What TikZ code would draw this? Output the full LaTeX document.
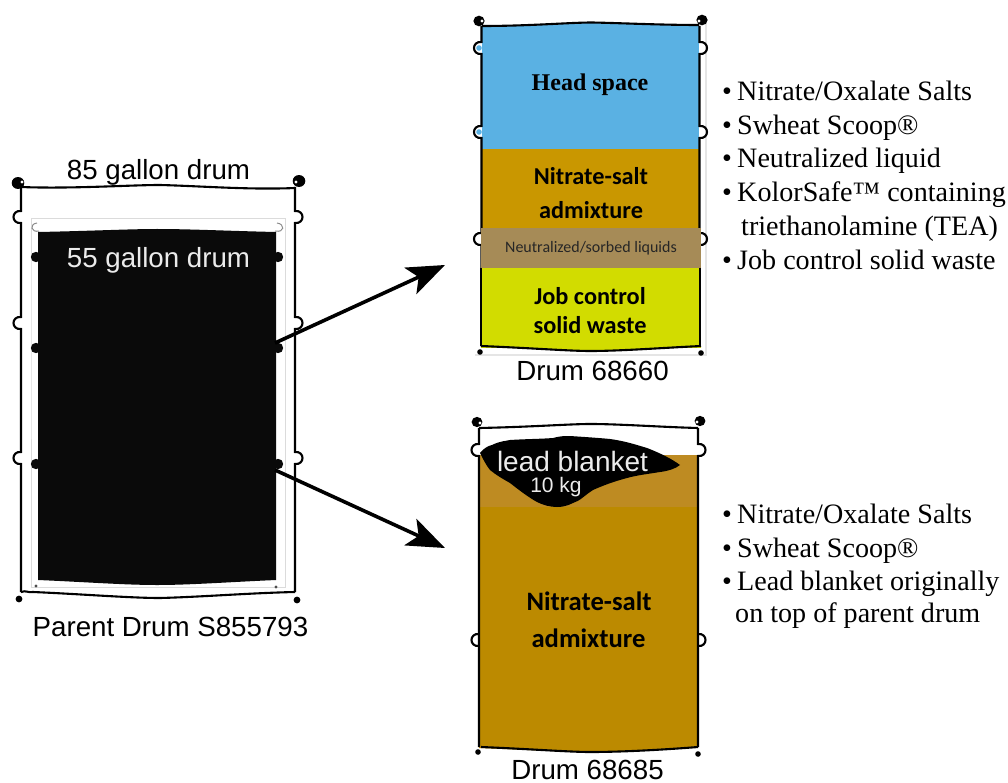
\documentclass[tikz,border=0pt]{standalone}
\usepackage{fontspec}
\setmainfont{Liberation Serif}
\newfontfamily\arialf{Liberation Sans}
\newfontfamily\calibrif{Carlito}
\usetikzlibrary{arrows.meta}
\definecolor{blueL}{HTML}{5AB1E3}
\definecolor{orangeL}{HTML}{C99700}
\definecolor{brownL}{HTML}{A68B57}
\definecolor{yellowL}{HTML}{D2DC00}
\definecolor{goldL}{HTML}{BC8A00}
\definecolor{goldB}{HTML}{BE8B22}
\definecolor{inkB}{HTML}{0A0A0A}
% wall with three outward bumps: x, direction, ytop, rib1, rib2, rib3, ybottom
\newcommand{\drumwall}[7]{
  \draw[wall] (#1,#3) -- (#1,{#4-6}) .. controls ({#1+#2*10},{#4-7}) and ({#1+#2*10},{#4+7}) .. (#1,{#4+6})
    -- (#1,{#5-6}) .. controls ({#1+#2*10},{#5-7}) and ({#1+#2*10},{#5+7}) .. (#1,{#5+6})
    -- (#1,{#6-6}) .. controls ({#1+#2*10},{#6-7}) and ({#1+#2*10},{#6+7}) .. (#1,{#6+6})
    -- (#1,#7);}
% rim blob with a small notch: centre x, y, radius, notch x, notch y
\newcommand{\rimblob}[5]{
  \fill[black] (#1,#2) ellipse ({#3} and {#3*0.95});
  \fill[white] (#4,#5) circle (1.7);}
\tikzset{
  x=1pt,y=-1pt,
  wall/.style={line width=2.1pt,black},
  rimline/.style={line width=2.1pt,black},
  sanslabel/.style={font=\arialf\fontsize{27.7}{30}\selectfont,inner sep=0pt},
  calibold/.style={font=\calibrif\bfseries\fontsize{24.3}{26}\selectfont,inner sep=0pt,text=black},
  caliboldbig/.style={font=\calibrif\bfseries\fontsize{26.6}{28}\selectfont,inner sep=0pt,text=black},
  listline/.style={font=\fontsize{28.1}{30}\selectfont,inner sep=0pt,anchor=base west},
  flow/.style={line width=3.6pt,-{Stealth[length=38pt,width=29pt,inset=9pt]}},
}
\begin{document}
\begin{tikzpicture}
\useasboundingbox (0,0) rectangle (1008,783);
\fill[white] (0,0) rectangle (1008,783);

% ---------- parent drum ----------
\draw[black!14,line width=1pt] (31,294) -- (31,219) -- (285,219) -- (285,587) -- (31,587) -- cycle;
\fill[inkB] (38,232) .. controls (90,231) and (130,229) .. (157,229) .. controls (190,229) and (230,231) .. (276,232)
  -- (276,580) .. controls (230,582) and (190,585) .. (157,585) .. controls (125,585) and (85,582) .. (38,580) -- cycle;
\foreach \yy in {257,348,464}{
  \fill[inkB] (36,\yy) circle (5.2);
  \fill[inkB] (278,\yy) circle (5.2);
}
\draw[black!45,line width=1pt] (39,231) .. controls (31,233) and (29,224) .. (37,223);
\draw[black!45,line width=1pt] (275,231) .. controls (285,233) and (285,224) .. (277,223);
\fill[black!70] (36,586) circle (1.6) (276,587) circle (1.6);
\drumwall{21}{-1}{187}{217}{323}{458}{592}
\drumwall{295}{1}{187}{217}{323}{458}{592}
\draw[rimline] (21,187) .. controls (70,189) and (130,185) .. (160,185) .. controls (200,186) and (250,190) .. (295,188);
\draw[rimline] (21,592) .. controls (26,590) and (28,593) .. (33,592) .. controls (80,594) and (130,598) .. (160,598) .. controls (200,597) and (250,593) .. (295,592);
\rimblob{18}{183}{6.3}{22}{182}
\rimblob{299}{181}{6.3}{296}{182}
\fill[black] (19,599) circle (3.4) (297,600) circle (3.4);

\node[sanslabel] (lab85) at (158.5,172) {85 gallon drum};
\node[sanslabel,text=white!92!black] (lab55) at (158.5,260.5) {55 gallon drum};
\node[sanslabel] (parent) at (170.5,627) {Parent Drum S855793};
\coordinate (outA) at (275,343);
\coordinate (outB) at (275,470);

% ---------- drum 68660 ----------
\draw[black!10,line width=1.2pt] (706,20) -- (706,355) -- (475,355);
\fill[blueL] (479,48) circle (2.8) (479,132) circle (2.8);
\fill[blueL] (482,26) -- (699,26) -- (699,150) -- (482,150) -- cycle;
\fill[blueL] (482,27) .. controls (530,26) and (570,23) .. (590,23) .. controls (620,23) and (660,25) .. (699,26) -- cycle;
\fill[orangeL] (482,149.5) rectangle (699,229);
\drumwall{481.5}{-1}{26}{48}{132}{239}{346}
\drumwall{699.5}{1}{26}{48}{132}{239}{346}
\node[inner sep=0pt,fill=brownL,minimum width=220pt,minimum height=40pt,font=\calibrif\fontsize{16}{18}\selectfont,text=black!85] (layerN) at (591,248.5) {Neutralized/sorbed liquids};
\node[inner sep=0pt,fill=yellowL,minimum width=220pt,minimum height=79pt] (layerJ) at (591,308) {};
\fill[yellowL] (481,346) .. controls (530,348) and (570,351) .. (590,351) .. controls (620,351) and (660,348) .. (701,346) -- cycle;
\draw[wall] (481,268) -- (481,346) (700,268) -- (700,346);
\draw[rimline] (482,26) .. controls (530,26) and (570,22.5) .. (592,22.5) .. controls (620,23) and (660,25) .. (699,25);
\draw[rimline] (481,346) .. controls (530,348) and (570,351) .. (590,351) .. controls (620,351) and (660,348) .. (701,346);
\rimblob{479}{21}{5.6}{482}{21}
\rimblob{702}{20}{5.6}{699}{21}
\fill[black] (480,352) circle (2.8) (701,353) circle (2.8);
\node[inner sep=0pt,font=\bfseries\fontsize{24}{26}\selectfont] (headspace) at (590,84.5) {Head space};
\node[calibold] (ns1) at (591,176.5) {Nitrate-salt};
\node[calibold] (ns1b) at (591,210.5) {admixture};
\node[calibold] (jc1) at (590,296) {Job control};
\node[calibold] (jc2) at (590,325) {solid waste};
\node[sanslabel] (d60) at (592.5,371) {Drum 68660};
\coordinate (inA) at (445,265);

% ---------- drum 68685 ----------
\fill[goldL] (479,455) rectangle (698,748);
\fill[goldB] (479,455) rectangle (698,507);
\fill[goldL] (479,748) .. controls (530,750) and (570,752) .. (590,752) .. controls (620,752) and (660,750) .. (698,747) -- cycle;
\drumwall{479}{-1}{428}{450}{640}{640}{747}
\drumwall{698}{1}{428}{450}{640}{640}{747}
\draw[rimline] (479,428) .. controls (530,427) and (570,424) .. (590,424) .. controls (620,424) and (660,427) .. (698,428);
\draw[rimline] (481,747) .. controls (530,749) and (570,752) .. (590,752) .. controls (620,752) and (660,750) .. (698,747);
\rimblob{477}{422}{5.4}{480}{423}
\rimblob{700}{421}{5.4}{697}{422}
\fill[black] (478,752) circle (2.8) (698,754) circle (2.8);
\fill[black] (480,453) .. controls (484,448) and (488,446) .. (492,445) .. controls (500,441) and (506,441) .. (510,440)
  .. controls (525,439) and (540,439) .. (553,438) .. controls (560,436) and (565,436) .. (570,436)
  .. controls (585,437) and (600,438) .. (610,439) .. controls (625,441) and (637,445) .. (647,448)
  .. controls (660,453) and (672,459) .. (680,465) .. controls (675,469) and (668,471) .. (660,472)
  .. controls (648,474) and (638,475) .. (627,478) .. controls (612,482) and (602,486) .. (593,490)
  .. controls (585,495) and (580,501) .. (573,503) .. controls (567,506) and (562,507) .. (557,507)
  .. controls (550,507) and (543,505) .. (537,502) .. controls (528,497) and (519,490) .. (510,483)
  .. controls (503,479) and (496,475) .. (490,470) .. controls (486,465) and (483,459) .. (480,453) -- cycle;
\node[sanslabel,text=white!92!black,font=\arialf\fontsize{28}{30}\selectfont] (leadt) at (572.5,461) {lead blanket};
\node[sanslabel,text=white!92!black,font=\arialf\fontsize{21}{24}\selectfont] (leadk) at (556,487) {10 kg};
\node[caliboldbig] (ns2) at (589,601.5) {Nitrate-salt};
\node[caliboldbig] (ns2b) at (588.5,638) {admixture};
\node[sanslabel] (d85) at (587.5,769.5) {Drum 68685};
\coordinate (inB) at (445,548);

% ---------- connectors ----------
\draw[flow] (outA) -- (inA);
\draw[flow] (outB) -- (inB);

% ---------- lists ----------
\node[listline] (b1) at (722,101) {•};
\node[listline] (l1) at (737,101) {Nitrate/Oxalate Salts};
\node[listline] (b2) at (722,135) {•};
\node[listline] (l2) at (737,135) {Swheat Scoop®};
\node[listline] (b3) at (722,168) {•};
\node[listline] (l3) at (737,168) {Neutralized liquid};
\node[listline] (b4) at (722,202) {•};
\node[listline] (l4) at (737,202) {KolorSafe™ containing};
\node[listline] (l4b) at (741,236) {triethanolamine (TEA)};
\node[listline] (b5) at (722,270) {•};
\node[listline] (l5) at (737,270) {Job control solid waste};
\node[listline] (b6) at (722,523) {•};
\node[listline] (l6) at (737,523) {Nitrate/Oxalate Salts};
\node[listline] (b7) at (722,557) {•};
\node[listline] (l7) at (737,557) {Swheat Scoop®};
\node[listline] (b8) at (722,590) {•};
\node[listline] (l8) at (737,590) {Lead blanket originally};
\node[listline] (l8b) at (735,622) {on top of parent drum};
\end{tikzpicture}
\end{document}
